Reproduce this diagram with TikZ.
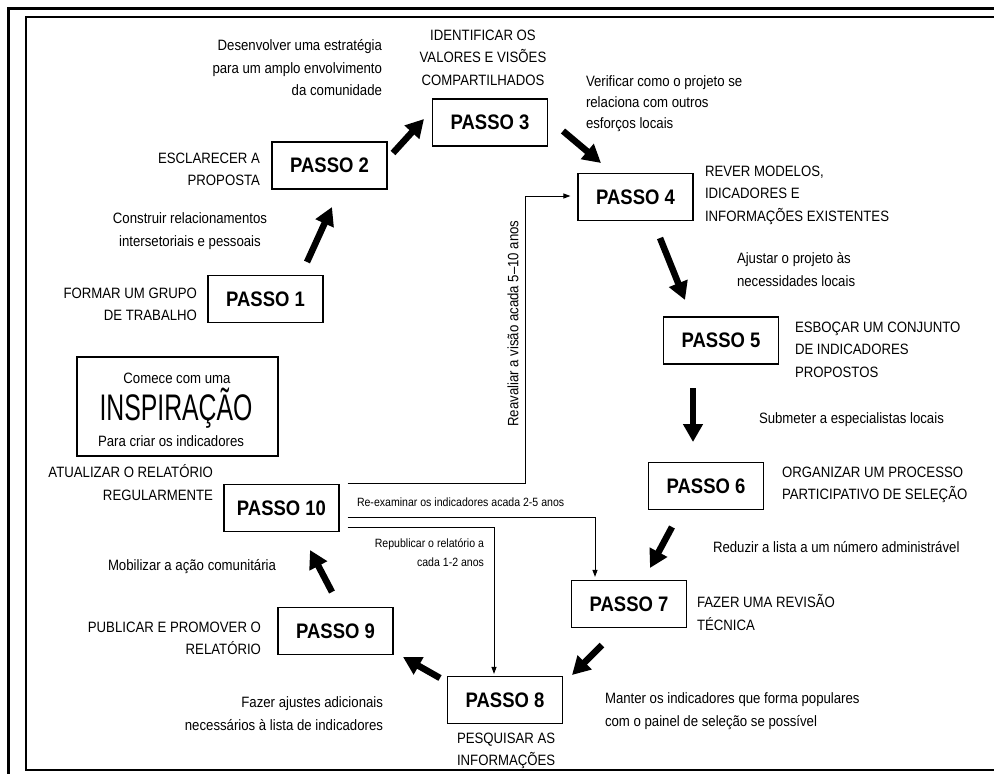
\documentclass[tikz,border=0pt]{standalone}
\usepackage{fontspec}
\setmainfont{Liberation Sans}
\newfontfamily\labfont{Liberation Sans}[FakeStretch=0.88]
\newfontfamily\passofont{Liberation Sans}[FakeStretch=0.88]
\newfontfamily\inspfont{Liberation Sans}[FakeStretch=0.67]
\usetikzlibrary{arrows.meta}
\tikzset{
  passo/.style={draw, line width=1.2pt, minimum width=115pt, minimum height=47pt, inner sep=0pt,
    font=\passofont\bfseries\fontsize{21}{21}\selectfont},
  lbl/.style={inner sep=0pt, outer sep=0pt, font=\labfont\fontsize{15}{22.5}\selectfont},
  smalllbl/.style={inner sep=0pt, outer sep=0pt, font=\labfont\fontsize{12}{19}\selectfont},
  bigarrow/.style={line width=6.5pt, -{Triangle[length=18pt,width=19pt]}},
  thinarrow/.style={line width=1pt, -{Triangle[length=7pt,width=5pt]}},
  framethick/.style={line width=3pt},
  framethin/.style={line width=1.3pt}
}
\begin{document}
\begin{tikzpicture}[x=1pt,y=-1pt]
\useasboundingbox (0,0) rectangle (994,774);
% frame
\draw[framethick] (7,8) -- (994,8);
\draw[framethick] (8,7) -- (8,774);
\draw[framethin] (994,17) -- (26,17) -- (26,770) -- (994,770);

% step boxes
\node[passo] (p1) at (265.5,299) {PASSO 1};
\node[passo] (p2) at (329.5,165.5) {PASSO 2};
\node[passo] (p3) at (490,122.5) {PASSO 3};
\node[passo] (p4) at (635.5,197) {PASSO 4};
\node[passo] (p5) at (721,340.5) {PASSO 5};
\node[passo] (p6) at (706,486) {PASSO 6};
\node[passo] (p7) at (629,604) {PASSO 7};
\node[passo] (p8) at (505,700) {PASSO 8};
\node[passo] (p9) at (335.5,631) {PASSO 9};
\node[passo] (p10) at (281.5,508) {PASSO 10};

% inspiration box
\node[draw, line width=1.2pt, minimum width=201pt, minimum height=99pt, inner sep=0pt] (insp) at (177.5,406.5) {};
\node[lbl, anchor=base] (insp1) at (177,383) {Comece com uma};
\node[inner sep=0pt, anchor=base, font=\inspfont\fontsize{37}{37}\selectfont] (insp2) at (176,420) {INSPIRAÇÃO};
\node[lbl, anchor=base] (insp3) at (171,446.5) {Para criar os indicadores};

% labels
\node[lbl, anchor=north east, align=right] (l1) at (382,39.7) {Desenvolver uma estratégia\\para um amplo envolvimento\\da comunidade};
\node[lbl, anchor=north, align=center] (l2) at (483,29.7) {IDENTIFICAR OS\\VALORES E VISÕES\\COMPARTILHADOS};
\node[lbl, anchor=north west, align=left, font=\labfont\fontsize{15}{21}\selectfont] (l3) at (586,76) {Verificar como o projeto se\\relaciona com outros\\esforços locais};
\node[lbl, anchor=north east, align=right] (l4) at (260,152.7) {ESCLARECER A\\PROPOSTA};
\node[lbl, anchor=north west, align=left] (l5) at (705,165.7) {REVER MODELOS,\\IDICADORES E\\INFORMAÇÕES EXISTENTES};
\node[lbl, anchor=north, align=center] (l6) at (190,212.7) {Construir relacionamentos\\intersetoriais e pessoais};
\node[lbl, anchor=north east, align=right] (l7) at (197,287.7) {FORMAR UM GRUPO\\DE TRABALHO};
\node[lbl, anchor=north west, align=left] (l8) at (737,252.7) {Ajustar o projeto às\\necessidades locais};
\node[lbl, anchor=north west, align=left] (l9) at (795,321.7) {ESBOÇAR UM CONJUNTO\\DE INDICADORES\\PROPOSTOS};
\node[lbl, anchor=north west, align=left] (l10) at (759,412.7) {Submeter a especialistas locais};
\node[lbl, anchor=north west, align=left] (l11) at (782,466.7) {ORGANIZAR UM PROCESSO\\PARTICIPATIVO DE SELEÇÃO};
\node[lbl, anchor=north east, align=right] (l12) at (213,464.7) {ATUALIZAR O RELATÓRIO\\REGULARMENTE};
\node[smalllbl, anchor=north west, align=left] (l13) at (357,497.7) {Re-examinar os indicadores acada 2-5 anos};
\node[smalllbl, anchor=north east, align=right] (l14) at (484,538.7) {Republicar o relatório a\\cada 1-2 anos};
\node[lbl, rotate=90, anchor=center] (l15) at (513,323.5) {Reavaliar a visão acada 5–10 anos};
\node[lbl, anchor=north west, align=left] (l16) at (108,559.7) {Mobilizar a ação comunitária};
\node[lbl, anchor=north east, align=right] (l17) at (261,621.7) {PUBLICAR E PROMOVER O\\RELATÓRIO};
\node[lbl, anchor=north west, align=left] (l18) at (697,594.7) {FAZER UMA REVISÃO\\TÉCNICA};
\node[lbl, anchor=north west, align=left] (l19) at (713,541.7) {Reduzir a lista a um número administrável};
\node[lbl, anchor=north east, align=right] (l20) at (383,696.7) {Fazer ajustes adicionais\\necessários à lista de indicadores};
\node[lbl, anchor=north west, align=left] (l21) at (605,692.7) {Manter os indicadores que forma populares\\com o painel de seleção se possível};
\node[lbl, anchor=north west, align=left] (l22) at (457,732.7) {PESQUISAR AS\\INFORMAÇÕES};

% big arrows
\coordinate (a1s) at (307,262); \coordinate (a1e) at (332,207);
\coordinate (a2s) at (393,153); \coordinate (a2e) at (424,119);
\coordinate (a3s) at (563,131); \coordinate (a3e) at (601,163);
\coordinate (a4s) at (660,238); \coordinate (a4e) at (685,300);
\coordinate (a5s) at (693,388); \coordinate (a5e) at (693,442);
\coordinate (a6s) at (672,527); \coordinate (a6e) at (650,568);
\coordinate (a7s) at (602,645); \coordinate (a7e) at (572,675);
\coordinate (a8s) at (440,678); \coordinate (a8e) at (403,657);
\coordinate (a9s) at (332,592); \coordinate (a9e) at (310,550);
\draw[bigarrow] (a1s) -- (a1e);
\draw[bigarrow] (a2s) -- (a2e);
\draw[bigarrow] (a3s) -- (a3e);
\draw[bigarrow] (a4s) -- (a4e);
\draw[bigarrow] (a5s) -- (a5e);
\draw[bigarrow] (a6s) -- (a6e);
\draw[bigarrow] (a7s) -- (a7e);
\draw[bigarrow] (a8s) -- (a8e);
\draw[bigarrow] (a9s) -- (a9e);

% feedback connectors
\draw[thinarrow] ([xshift=8pt]p10.north east) -| ([xshift=-52pt,yshift=1pt]p4.west) -- ([xshift=-7pt,yshift=1pt]p4.west);
\draw[thinarrow] ([xshift=8pt,yshift=-9pt]p10.east) -| ([xshift=-34pt,yshift=3pt]p7.north);
\draw[thinarrow] ([xshift=8pt,yshift=-19pt]p10.east) -| ([xshift=-11pt,yshift=2pt]p8.north);
\end{tikzpicture}
\end{document}
